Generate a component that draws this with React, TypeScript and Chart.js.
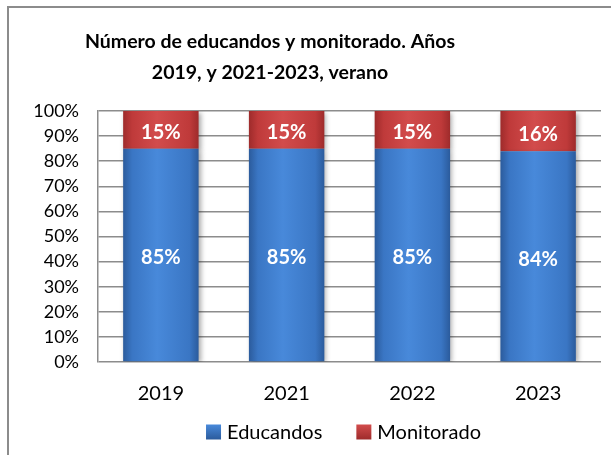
import React, { useEffect, useRef } from "react";
import { Chart, registerables } from "chart.js";

Chart.register(...registerables);

const TITLE_LINES = ["Número de educandos y monitorado. Años", "2019, y 2021-2023, verano"];
const YEARS = ["2019", "2021", "2022", "2023"];
const EDUCANDOS = [85, 85, 85, 84];
const MONITORADO = [15, 15, 15, 16];
const SERIES_NAMES = ["Educandos", "Monitorado"];

const FONT = "Lato, 'Open Sans', sans-serif";
const BAR_PCT = 0.6;
const BLUE = ["#2b5b9c", "#3a76c4", "#4889da"];
const RED = ["#9e2b2b", "#bf3a3a", "#d24c4c"];

function barGradient(ctx: any, cols: string[]) {
  const chart = ctx.chart;
  const xs = chart.scales?.x;
  if (!xs || ctx.dataIndex === undefined) return cols[1];
  const cx = xs.getPixelForValue(ctx.dataIndex);
  const w = (xs.width / YEARS.length) * BAR_PCT;
  if (!Number.isFinite(cx) || !Number.isFinite(w) || w <= 0) return cols[1];
  const g = chart.ctx.createLinearGradient(cx - w / 2, 0, cx + w / 2, 0);
  g.addColorStop(0, cols[0]);
  g.addColorStop(0.12, cols[1]);
  g.addColorStop(0.45, cols[2]);
  g.addColorStop(0.88, cols[1]);
  g.addColorStop(1, cols[0]);
  return g;
}

const framePlugin = {
  id: "frame",
  beforeDraw(chart: any) {
    const c = chart.ctx;
    c.save();
    c.fillStyle = "#ffffff";
    c.fillRect(0, 0, chart.width, chart.height);
    c.strokeStyle = "#8c8c8c";
    c.lineWidth = 2;
    c.strokeRect(8, 7, chart.width + 20, chart.height + 20);
    c.restore();
  },
};

const titlePlugin = {
  id: "customTitle",
  afterDraw(chart: any) {
    const c = chart.ctx;
    c.save();
    c.fillStyle = "#000000";
    c.font = `bold 19.5px ${FONT}`;
    c.textAlign = "center";
    c.textBaseline = "alphabetic";
    TITLE_LINES.forEach((t, i) => c.fillText(t, 270, 48 + i * 31));
    c.restore();
  },
};

const legendPlugin = {
  id: "customLegend",
  afterDraw(chart: any) {
    const c = chart.ctx;
    const area = chart.chartArea;
    c.save();
    c.font = `20px ${FONT}`;
    c.textBaseline = "middle";
    const box = 15;
    const gap = 6;
    const itemGap = 34;
    const widths = SERIES_NAMES.map((n) => box + gap + c.measureText(n).width);
    const total = widths.reduce((a, b) => a + b, 0) + itemGap * (SERIES_NAMES.length - 1);
    let x = (area.left + area.right) / 2 - 6 - total / 2;
    const y = 432;
    const cols = [BLUE, RED];
    SERIES_NAMES.forEach((n, i) => {
      const g = c.createLinearGradient(0, y - box / 2, 0, y + box / 2);
      g.addColorStop(0, cols[i][2]);
      g.addColorStop(1, cols[i][0]);
      c.fillStyle = g;
      c.fillRect(x, y - box / 2, box, box);
      c.fillStyle = "#000";
      c.fillText(n, x + box + gap, y + 1);
      x += widths[i] + itemGap;
    });
    c.restore();
  },
};

const shadowPlugin = {
  id: "barShadow",
  beforeDatasetsDraw(chart: any) {
    const c = chart.ctx;
    c.save();
    c.shadowColor = "rgba(0,0,0,0.35)";
    c.shadowBlur = 5;
    c.shadowOffsetX = 2;
    c.shadowOffsetY = 2;
  },
  afterDatasetsDraw(chart: any) {
    chart.ctx.restore();
  },
};

const labelsPlugin = {
  id: "segLabels",
  afterDatasetsDraw(chart: any) {
    const c = chart.ctx;
    c.save();
    c.fillStyle = "#ffffff";
    c.font = `bold 20px ${FONT}`;
    c.textAlign = "center";
    c.textBaseline = "middle";
    chart.data.datasets.forEach((ds: any, di: number) => {
      const meta = chart.getDatasetMeta(di);
      meta.data.forEach((el: any, i: number) => {
        const yMid = (el.y + el.base) / 2 + 3;
        c.fillText(`${ds.data[i]}%`, el.x, yMid);
      });
    });
    c.restore();
  },
};

export default function App() {
  const ref = useRef<HTMLCanvasElement | null>(null);
  useEffect(() => {
    if (!ref.current) return;
    const chart = new Chart(ref.current, {
      type: "bar",
      data: {
        labels: YEARS,
        datasets: [
          {
            label: SERIES_NAMES[0],
            data: EDUCANDOS,
            backgroundColor: (ctx: any) => barGradient(ctx, BLUE),
            borderWidth: 0,
            stack: "s",
          },
          {
            label: SERIES_NAMES[1],
            data: MONITORADO,
            backgroundColor: (ctx: any) => barGradient(ctx, RED),
            borderWidth: 0,
            stack: "s",
          },
        ],
      },
      options: {
        responsive: false,
        animation: false,
        events: [],
        layout: { padding: { top: 111, right: 10, left: 0, bottom: 29 } },
        datasets: { bar: { barPercentage: BAR_PCT, categoryPercentage: 1 } },
        scales: {
          x: {
            stacked: true,
            grid: { display: false, drawTicks: false },
            border: { display: false },
            ticks: { color: "#000", font: { family: FONT, size: 20 }, padding: 20 },
          },
          y: {
            stacked: true,
            min: 0,
            max: 100,
            afterFit: (s: any) => {
              s.width = 98;
            },
            grid: { color: "#8c8c8c", lineWidth: 1.5, drawTicks: false },
            border: { display: true, color: "#8c8c8c", width: 1.5 },
            ticks: {
              stepSize: 10,
              autoSkip: false,
              color: "#000",
              font: { family: FONT, size: 18 },
              padding: 19,
              callback: (v: any) => `${v}%`,
            },
          },
        },
        plugins: {
          title: { display: false },
          tooltip: { enabled: false },
          legend: { display: false },
        },
      },
      plugins: [framePlugin, titlePlugin, shadowPlugin, labelsPlugin, legendPlugin],
    } as any);
    return () => chart.destroy();
  }, []);
  return (
    <div style={{ position: "fixed", left: 0, top: 0, width: 611, height: 455 }}>
      <canvas ref={ref} width={611} height={455} style={{ display: "block" }} />
    </div>
  );
}
